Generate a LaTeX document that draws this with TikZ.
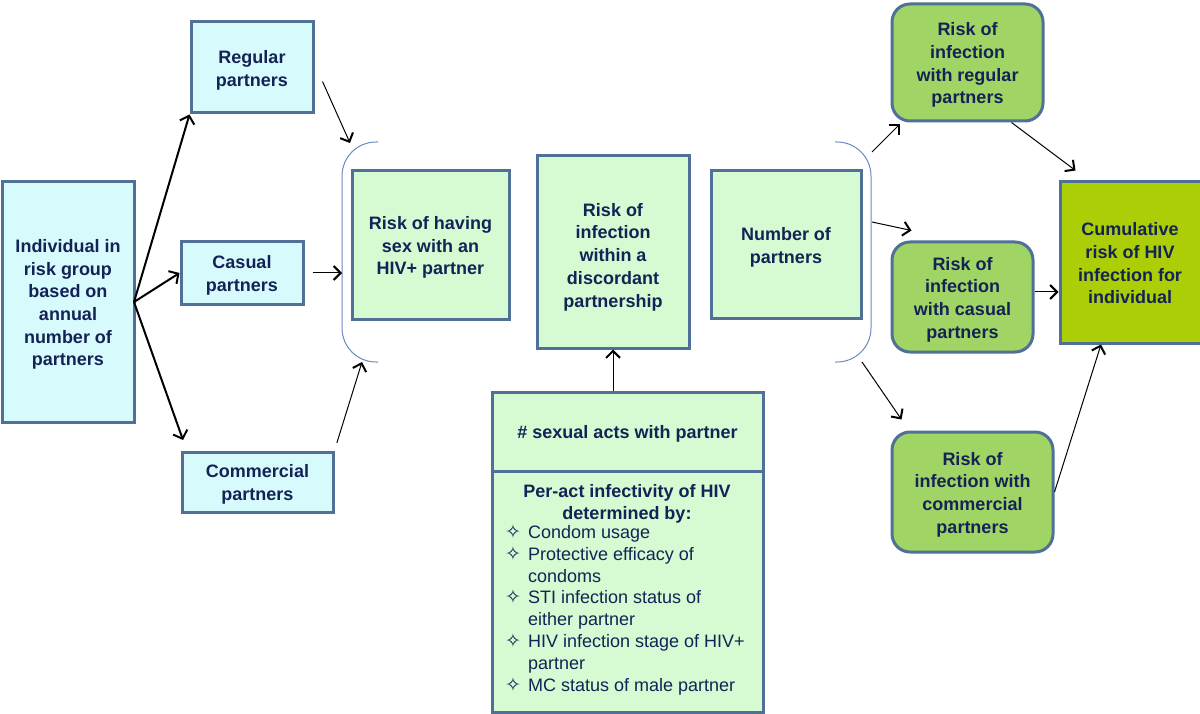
\documentclass[tikz,border=0pt]{standalone}
\usepackage{fontspec}
\setmainfont{Liberation Sans}
\newfontfamily\djv{DejaVu Sans}
\usetikzlibrary{arrows.meta,fit}
\definecolor{txt}{RGB}{20,35,85}
\definecolor{bord}{RGB}{80,112,152}
\definecolor{cyanf}{RGB}{215,250,252}
\definecolor{greenf}{RGB}{214,250,210}
\definecolor{midg}{RGB}{160,212,100}
\definecolor{limeg}{RGB}{172,206,6}
\definecolor{brk}{RGB}{105,140,190}
\newcommand{\bul}{{\djv\fontsize{19}{22}\selectfont ✧}}
\begin{document}
\begin{tikzpicture}[x=1pt,y=-1pt,
  base/.style={draw=bord, line width=3pt, inner sep=0pt},
  cbox/.style={base, fill=cyanf},
  gbox/.style={base, fill=greenf},
  rbox/.style={base, fill=midg, rounded corners=18pt},
  cumbox/.style={base, fill=limeg},
  lbl/.style={inner sep=0pt, align=center, text=txt,
    font=\fontsize{18}{22.7}\selectfont\bfseries},
  plain/.style={inner sep=0pt, text=txt},
  bigarrow/.style={line width=2pt, -{Straight Barb[length=7pt,width=15pt]}},
  smallarrow/.style={line width=1pt, -{Straight Barb[length=7pt,width=14pt,line width=2pt]}},
  brack/.style={draw=brk, line width=1pt},
]
\fill[white] (0,0) rectangle (1200,714);
\clip (0,0) rectangle (1200,714);

% left column
\node[cbox, fit={(2,182) (134,422)}] (ind) {};
\node[lbl] (ind-t) at ([shift={(0,2.5)}]ind.center) {Individual in\\risk group\\based on\\annual\\number of\\partners};
\node[cbox, fit={(191,22) (313,113)}] (reg) {};
\node[lbl] (reg-t) at ([shift={(0,2.5)}]reg.center) {Regular\\partners};
\node[cbox, fit={(181,242) (303,304)}] (cas) {};
\node[lbl] (cas-t) at ([shift={(0,2.5)}]cas.center) {Casual\\partners};
\node[cbox, fit={(182,452) (333,512)}] (com) {};
\node[lbl] (com-t) at ([shift={(0,2.5)}]com.center) {Commercial\\partners};

% middle
\node[gbox, fit={(352,171) (509,319)}] (hiv) {};
\node[lbl] (hiv-t) at ([shift={(0,2.5)}]hiv.center) {Risk of having\\sex with an\\HIV+ partner};
\node[gbox, fit={(537,156) (689,348)}] (disc) {};
\node[lbl] (disc-t) at ([shift={(0,5)}]disc.center) {Risk of\\infection\\within a\\discordant\\partnership};
\node[gbox, fit={(711,171) (861,318)}] (num) {};
\node[lbl] (num-t) at ([shift={(0,2.5)}]num.center) {Number of\\partners};

\node[gbox, fit={(492,471) (763,712)}] (per) {};
\node[gbox, fit={(492,392) (763,471)}] (acts) {};
\node[lbl] (acts-t) at ([shift={(0,2.5)}]acts.center) {\# sexual acts with partner};
\node[plain, align=center, font=\fontsize{18}{22}\selectfont\bfseries] (perhead) at (627,504)
  {Per-act infectivity of HIV\\determined by:};
\node[plain, anchor=north west, font=\fontsize{18}{21.8}\selectfont] (list) at (505,523) {%
\begin{tabular}{@{}l@{\hspace{7pt}}l@{}}
\bul & Condom usage\\
\bul & Protective efficacy of\\
 & condoms\\
\bul & STI infection status of\\
 & either partner\\
\bul & HIV infection stage of HIV+\\
 & partner\\
\bul & MC status of male partner
\end{tabular}};

% right
\node[rbox, fit={(892,4) (1043,121)}] (rreg) {};
\node[lbl] (rreg-t) at ([shift={(0,2.5)}]rreg.center) {Risk of\\infection\\with regular\\partners};
\node[rbox, fit={(892,242) (1033,352)}] (rcas) {};
\node[lbl] (rcas-t) at ([shift={(0,2.5)}]rcas.center) {Risk of\\infection\\with casual\\partners};
\node[rbox, fit={(892,432) (1053,552)}] (rcom) {};
\node[lbl] (rcom-t) at ([shift={(0,2.5)}]rcom.center) {Risk of\\infection with\\commercial\\partners};
\node[cumbox, fit={(1060,182) (1202,343)}] (cum) {};
\node[lbl] (cum-t) at ([shift={(-1,1)}]cum.center) {Cumulative\\risk of HIV\\infection for\\individual};

% brackets
\draw[brack, rounded corners=34pt] (378,142) -- (342,142) -- (342,362) -- (378,362);
\draw[brack, rounded corners=34pt] (835,142) -- (871,142) -- (871,362) -- (835,362);
\coordinate (fan) at (134,302);
\coordinate (lbT) at (350,143);
\coordinate (lbM) at (342,273);
\coordinate (lbB) at (362,362);
\coordinate (rb1) at (872,152);
\coordinate (rb2) at (872,222);
\coordinate (rb3) at (862,362);
\coordinate (comtip) at (183,440);

% left fan arrows
\draw[bigarrow] (fan) -- (reg.south west);
\draw[bigarrow] (fan) -- (cas.west);
\draw[bigarrow] (fan) -- (comtip);

% to left bracket
\draw[smallarrow] ([shift={(8,14)}]reg.east) -- (lbT);
\draw[smallarrow, shorten <=8pt] (cas.east) -- (lbM);
\draw[smallarrow, shorten <=8pt] (com.north east) -- (lbB);

% bottom arrow
\draw[smallarrow] (disc.south |- acts.north) -- (disc.south);

% from right bracket
\draw[smallarrow] (rb1) -- ([shift={(9,2)}]rreg.south west);
\draw[smallarrow] (rb2) -- ([shift={(21,-10)}]rcas.north west);
\draw[smallarrow] (rb3) -- ([shift={(11,-11)}]rcom.north west);

% to cumulative
\draw[smallarrow] ([shift={(44,0)}]rreg.south) -- ([shift={(17,-10)}]cum.north west);
\draw[smallarrow] ([shift={(0,-5)}]rcas.east) -- ([shift={(0,-5)}]rcas.east -| cum.west);
\draw[smallarrow] (rcom.east) -- ([shift={(-30,0)}]cum.south);
\end{tikzpicture}
\end{document}
